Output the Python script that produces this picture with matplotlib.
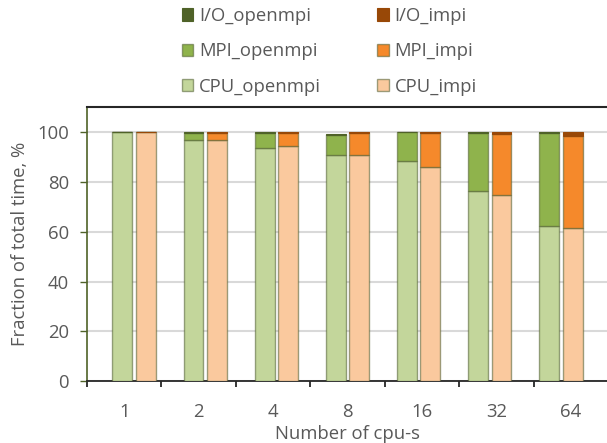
import matplotlib
matplotlib.use("Agg")
import matplotlib.pyplot as plt
import numpy as np

categories = ["1", "2", "4", "8", "16", "32", "64"]
cpu_openmpi = [100.0, 97.1, 93.8, 90.9, 88.5, 76.6, 62.5]
mpi_openmpi = [0.2, 2.6, 5.9, 8.2, 11.6, 23.1, 37.2]
io_openmpi = [0.1, 0.3, 0.3, 0.1, 0.2, 0.3, 0.3]
cpu_impi = [100.0, 96.9, 94.4, 90.9, 86.0, 75.0, 61.4]
mpi_impi = [0.0, 2.9, 5.4, 9.0, 13.8, 24.3, 37.0]
io_impi = [0.0, 0.2, 0.2, 0.1, 0.2, 0.7, 1.6]
yticks = [0, 20, 40, 60, 80, 100]

plt.rcParams['font.family'] = ['Open Sans', 'DejaVu Sans']
txt = '#595959'
fs = 13.3

fig = plt.figure(figsize=(6.07, 4.43), dpi=100)
ax = fig.add_axes([87 / 607, 62 / 443, 521 / 607, 274 / 443])

n = len(categories)
x = np.arange(n)
w = 0.28
off = 0.165
edge = (0.30, 0.36, 0.18, 0.55)

c_cpu_o, c_mpi_o, c_io_o = '#C3D69B', '#8FB34C', '#4F6228'
c_cpu_i, c_mpi_i, c_io_i = '#FAC99E', '#F5892B', '#984807'

b0 = np.zeros(n)
h1 = ax.bar(x - off, cpu_openmpi, w, bottom=b0, color=c_cpu_o, edgecolor=edge, lw=1, label='CPU_openmpi', zorder=3)
b1 = b0 + np.array(cpu_openmpi)
h2 = ax.bar(x - off, mpi_openmpi, w, bottom=b1, color=c_mpi_o, edgecolor=edge, lw=1, label='MPI_openmpi', zorder=3)
b2 = b1 + np.array(mpi_openmpi)
h3 = ax.bar(x - off, io_openmpi, w, bottom=b2, color=c_io_o, edgecolor=c_io_o, lw=0.8, label='I/O_openmpi', zorder=3)

h4 = ax.bar(x + off, cpu_impi, w, bottom=b0, color=c_cpu_i, edgecolor=edge, lw=1, label='CPU_impi', zorder=3)
d1 = b0 + np.array(cpu_impi)
h5 = ax.bar(x + off, mpi_impi, w, bottom=d1, color=c_mpi_i, edgecolor=edge, lw=1, label='MPI_impi', zorder=3)
d2 = d1 + np.array(mpi_impi)
h6 = ax.bar(x + off, io_impi, w, bottom=d2, color=c_io_i, edgecolor=c_io_i, lw=0.8, label='I/O_impi', zorder=3)

xl0, xl1 = -0.663, n - 1 + 0.663
ax.set_xlim(xl0, xl1)
ax.set_ylim(0, 110.2)

step = (xl1 - xl0) / n
bounds = [xl0 + k * step for k in range(n)]
centers = [xl0 + (k + 0.5) * step for k in range(n)]
ax.set_xticks(bounds)
ax.set_xticklabels([])
ax.set_xticks(centers, minor=True)
ax.set_xticklabels(categories, minor=True)
ax.tick_params(axis='x', which='major', length=4.5, width=1.3, color='#262626', direction='out')
ax.tick_params(axis='x', which='minor', length=0, pad=16, labelsize=fs, labelcolor=txt)

ax.set_yticks(yticks)
ax.tick_params(axis='y', length=5, width=1.0, color='#4F6228', pad=8, labelsize=fs, labelcolor=txt)
ax.yaxis.grid(True, color='#D9D9D9', lw=1.5, zorder=0)
ax.set_axisbelow(True)

ax.spines['right'].set_visible(False)
ax.spines['top'].set_color('#262626')
ax.spines['top'].set_linewidth(1.5)
ax.spines['left'].set_color('#4F6228')
ax.spines['left'].set_linewidth(1.2)
ax.spines['bottom'].set_color('#262626')
ax.spines['bottom'].set_linewidth(1.3)

ax.set_ylabel('Fraction of total time, %', fontsize=fs, color=txt, labelpad=6)
ax.set_xlabel('Number of cpu-s', fontsize=fs, color=txt, labelpad=3)

handles = [h3, h2, h1, h6, h5, h4]
labels = ['I/O_openmpi', 'MPI_openmpi', 'CPU_openmpi', 'I/O_impi', 'MPI_impi', 'CPU_impi']
leg = fig.legend(handles, labels, ncol=2, loc='upper left', bbox_to_anchor=(181.5 / 607, 1 - 7 / 443),
                 frameon=False, fontsize=fs, labelcolor=txt, handlelength=0.63, handleheight=0.63,
                 handletextpad=0.31, columnspacing=3.05, labelspacing=0.94, borderaxespad=0.0,
                 borderpad=0.0)

fig.savefig('out.png', dpi=100)
